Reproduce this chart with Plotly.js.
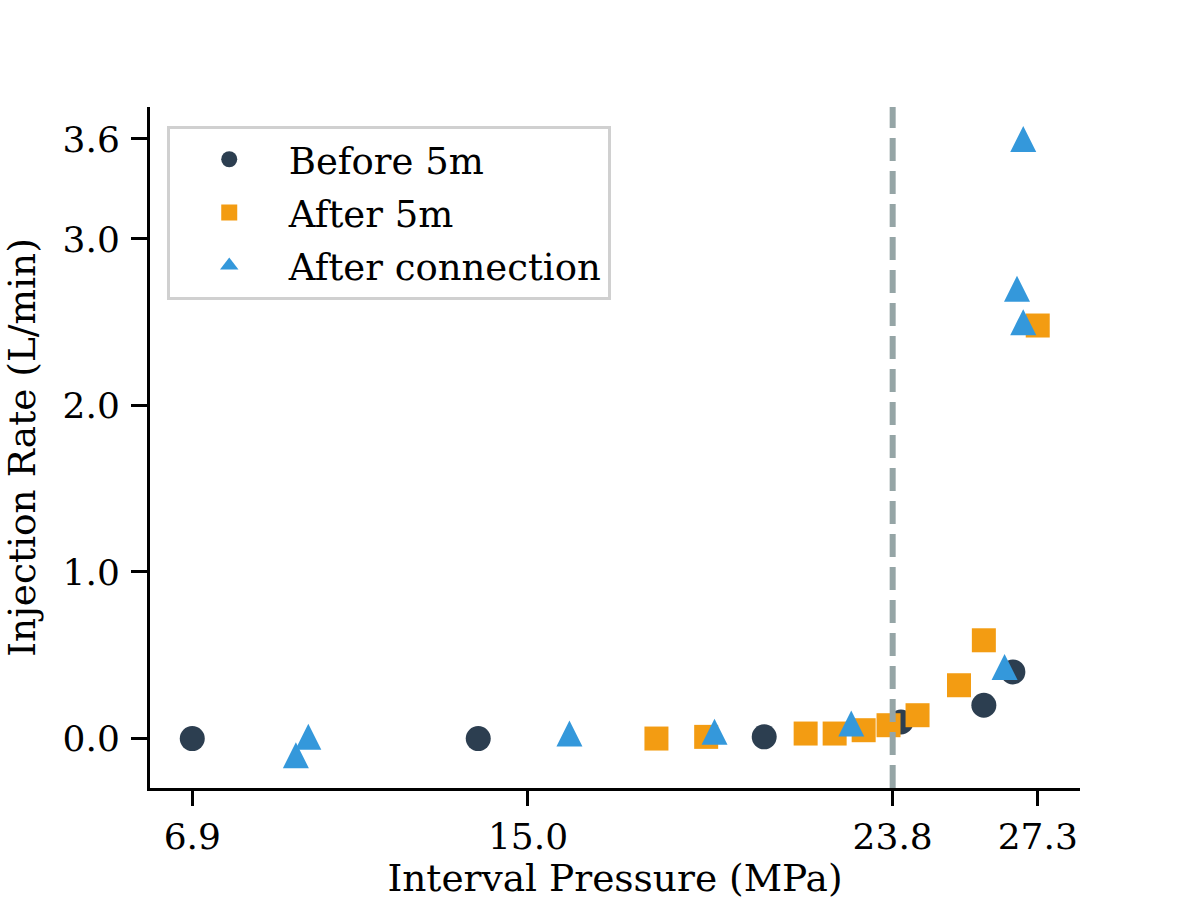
<!DOCTYPE html>
<html>
<head>
<meta charset="utf-8">
<script src="https://cdn.plot.ly/plotly-3.0.1.min.js"></script>
<style>
  html, body { margin: 0; padding: 0; background: #fff; }
  #chart { width: 1200px; height: 900px; }
</style>
</head>
<body>
<div id="chart"></div>
<script>
/* ---- Data ---- */
const beforeX = [6.9, 13.8, 20.7, 24.0, 26.0, 26.7];
const beforeY = [0.0, 0.0, 0.01, 0.10, 0.20, 0.40];

const after5X = [18.1, 19.3, 21.7, 22.4, 23.1, 23.7, 24.4, 25.4, 26.0, 27.3];
const after5Y = [0.0, 0.01, 0.03, 0.03, 0.05, 0.08, 0.14, 0.32, 0.59, 2.48];

const connX = [9.4, 9.7, 16.0, 19.5, 22.8, 26.5, 26.8, 26.95, 26.95];
const connY = [-0.1, 0.01, 0.03, 0.04, 0.09, 0.43, 2.7, 2.5, 3.6];

const xTicks = [6.9, 15.0, 23.8, 27.3];
const xTickText = ['6.9', '15.0', '23.8', '27.3'];
const yTicks = [0, 1, 2, 3, 3.6];
const yTickText = ['0.0', '1.0', '2.0', '3.0', '3.6'];

const thresholdX = 23.8;

const COLORS = {
  before: '#2c3e50',
  after5: '#f39c12',
  conn: '#3498db',
  threshold: '#95a5a6',
};

const FONT = "'DejaVu Serif', serif";

/* ---- Chart ---- */
function renderChart(containerId) {
  const traces = [
    {
      x: beforeX, y: beforeY,
      type: 'scatter', mode: 'markers',
      name: 'Before 5m', legendgroup: 'a',
      marker: { symbol: 'circle', size: 25, color: COLORS.before },
    },
    {
      x: after5X, y: after5Y,
      type: 'scatter', mode: 'markers',
      name: 'After 5m', legendgroup: 'b',
      marker: { symbol: 'square', size: 24, color: COLORS.after5 },
    },
    {
      // arrow-down turned 180deg + standoff => equilateral triangle centred on the point
      x: connX, y: connY,
      type: 'scatter', mode: 'markers',
      name: 'After connection', legendgroup: 'c', showlegend: false,
      marker: { symbol: 'arrow-down', angle: 180, size: 26, standoff: 13, color: COLORS.conn },
    },
    {
      // legend entry only (the standoff trick shifts the legend glyph)
      x: [null], y: [null],
      type: 'scatter', mode: 'markers',
      name: 'After connection', legendgroup: 'c',
      marker: { symbol: 'triangle-up', size: 26, color: COLORS.conn },
    },
  ];

  const axisCommon = {
    showgrid: false, zeroline: false,
    showline: true, linecolor: '#000', linewidth: 3,
    ticks: 'outside', tickcolor: '#000', tickwidth: 3,
    tickfont: { family: FONT, size: 36, color: '#000' },
  };

  const layout = {
    width: 1200, height: 900,
    margin: { t: 107, r: 120, b: 112, l: 150 },
    paper_bgcolor: '#fff', plot_bgcolor: '#fff',
    font: { family: FONT, size: 37, color: '#000' },
    xaxis: {
      ...axisCommon,
      range: [5.88, 28.32],
      tickmode: 'array', tickvals: xTicks, ticktext: xTickText,
      ticklen: 15,
      title: { text: 'Interval Pressure (MPa)', font: { family: FONT, size: 37.5 }, standoff: 36 },
    },
    yaxis: {
      ...axisCommon,
      range: [-0.297, 3.792],
      tickmode: 'array', tickvals: yTicks, ticktext: yTickText,
      ticklen: 16, ticklabelstandoff: 4,
      title: { text: 'Injection Rate (L/min)', font: { family: FONT, size: 37.5 }, standoff: 32 },
    },
    shapes: [{
      type: 'line', xref: 'x', yref: 'paper',
      x0: thresholdX, x1: thresholdX, y0: 0, y1: 1,
      layer: 'above',
      line: { color: COLORS.threshold, width: 6, dash: '23px,10px' },
    }],
    legend: {
      x: 0.018, y: 0.9725, xanchor: 'left', yanchor: 'top',
      bgcolor: '#fff', bordercolor: '#d0d0d0', borderwidth: 3,
      font: { family: FONT, size: 37, color: '#000' },
      itemwidth: 109, tracegroupgap: 2,
    },
    showlegend: true,
  };

  Plotly.newPlot(containerId, traces, layout, { displayModeBar: false });
}

renderChart('chart');
</script>
</body>
</html>
